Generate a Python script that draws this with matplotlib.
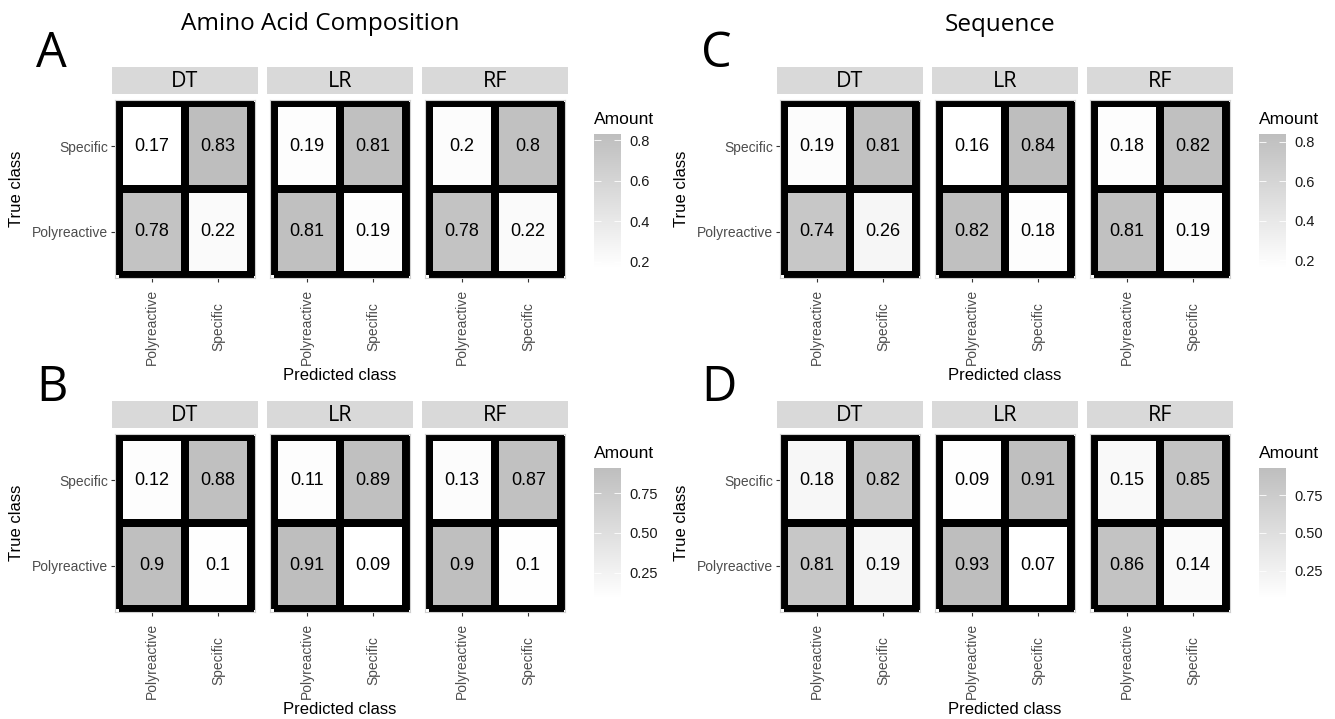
import matplotlib
matplotlib.use('Agg')
import matplotlib.pyplot as plt
from matplotlib.colors import LinearSegmentedColormap, Normalize
from matplotlib.cm import ScalarMappable

plt.rcParams['font.family'] = ['Liberation Sans', 'DejaVu Sans']

W, H = 1335, 719

models = ['DT', 'LR', 'RF']
true_classes = ['Polyreactive', 'Specific']   # bottom to top
pred_classes = ['Polyreactive', 'Specific']   # left to right

# each matrix: [[Polyreactive row], [Specific row]], columns = predicted
panel_a = [[[0.78, 0.22], [0.17, 0.83]],
           [[0.81, 0.19], [0.19, 0.81]],
           [[0.78, 0.22], [0.2, 0.8]]]
panel_b = [[[0.9, 0.1], [0.12, 0.88]],
           [[0.91, 0.09], [0.11, 0.89]],
           [[0.9, 0.1], [0.13, 0.87]]]
panel_c = [[[0.74, 0.26], [0.19, 0.81]],
           [[0.82, 0.18], [0.16, 0.84]],
           [[0.81, 0.19], [0.18, 0.82]]]
panel_d = [[[0.81, 0.19], [0.18, 0.82]],
           [[0.93, 0.07], [0.09, 0.91]],
           [[0.86, 0.14], [0.15, 0.85]]]

ticks_ac = [0.2, 0.4, 0.6, 0.8]
labels_ac = ['0.2', '0.4', '0.6', '0.8']
ticks_bd = [0.25, 0.5, 0.75]
labels_bd = ['0.25', '0.50', '0.75']

titles = ['Amino Acid Composition', 'Sequence']

cmap = LinearSegmentedColormap.from_list('wg', ['#FFFFFF', '#BEBEBE'])


def rect(x0, y0, x1, y1):
    return [x0 / W, 1 - y1 / H, (x1 - x0) / W, (y1 - y0) / H]


fig = plt.figure(figsize=(W / 100, H / 100), dpi=100)
fig.patch.set_facecolor('white')

panels = [('A', panel_a, 0, 0, ticks_ac, labels_ac),
          ('B', panel_b, 0, 334, ticks_bd, labels_bd),
          ('C', panel_c, 665, 0, ticks_ac, labels_ac),
          ('D', panel_d, 665, 334, ticks_bd, labels_bd)]

for letter, mats, dx, dy, cticks, clabels in panels:
    vals = [v for m in mats for row in m for v in row]
    norm = Normalize(vmin=min(vals), vmax=max(vals))

    fig.text((36 + dx) / W, 1 - (67 + dy) / H, letter, fontsize=35,
             family='Open Sans', ha='left', va='baseline')

    for k, model in enumerate(models):
        sx = 112 + dx + 155 * k
        # strip
        sax = fig.add_axes(rect(sx, 67 + dy, sx + 146, 94 + dy))
        sax.set_facecolor('#D9D9D9')
        sax.set_xticks([])
        sax.set_yticks([])
        for s in sax.spines.values():
            s.set_visible(False)
        sax.text(0.5, 0.45, model, ha='center', va='center', fontsize=15.5,
                 family='Open Sans', transform=sax.transAxes)

        # matrix
        mx = sx + 3
        ax = fig.add_axes(rect(mx, 100 + dy, mx + 140, 278 + dy))
        ax.pcolormesh([0.5, 1.5, 2.5], [0.5, 1.5, 2.5], mats[k], cmap=cmap,
                      norm=norm, edgecolors='black', linewidth=4.5)
        for i in range(2):
            for j in range(2):
                ax.text(j + 1, i + 1, f'{mats[k][i][j]:g}', ha='center',
                        va='center', fontsize=13, color='black')
        ax.set_xlim(0.447, 2.553)
        ax.set_ylim(0.465, 2.535)
        for s in ax.spines.values():
            s.set_color('#D0D0D0')
            s.set_linewidth(0.8)
        ax.set_xticks([1, 2])
        ax.set_xticklabels(pred_classes, rotation=90, fontsize=10,
                           color='#4D4D4D', va='center', ha='center')
        ax.tick_params(axis='x', length=3, width=0.8, color='#333333', pad=32)
        if k == 0:
            ax.set_yticks([1, 2])
            ax.set_yticklabels(true_classes, fontsize=10, color='#4D4D4D')
            ax.tick_params(axis='y', length=3, width=0.8, color='#333333', pad=2)
            ax.set_ylabel('True class', fontsize=12, labelpad=6)
        else:
            ax.set_yticks([])
        if k == 1:
            fig.text((mx + 70) / W, 1 - (375 + dy) / H, 'Predicted class',
                     ha='center', va='center', fontsize=12)

    # colorbar
    cx = 594 + dx
    if cticks == ticks_ac:
        cy0, cy1 = 134, 268
    else:
        cy0, cy1 = 134, 264
    cax = fig.add_axes(rect(cx, cy0 + dy, cx + 27, cy1 + dy))
    cb = fig.colorbar(ScalarMappable(norm=norm, cmap=cmap), cax=cax)
    cb.outline.set_visible(False)
    cb.set_ticks(cticks)
    cb.set_ticklabels(clabels)
    cax.tick_params(labelsize=10.5, labelcolor='#1A1A1A', length=5,
                    direction='in', color='white', left=True, right=True,
                    width=0.6, pad=6)
    fig.text(cx / W, 1 - (119 + dy) / H, 'Amount', ha='left', va='center',
             fontsize=12.5)

fig.text(320 / W, 1 - 24 / H, titles[0], ha='center', va='center',
         fontsize=17.5, family='Open Sans')
fig.text(1000 / W, 1 - 25 / H, titles[1], ha='center', va='center',
         fontsize=17.5, family='Open Sans')

fig.savefig('out.png', dpi=100, facecolor='white')
